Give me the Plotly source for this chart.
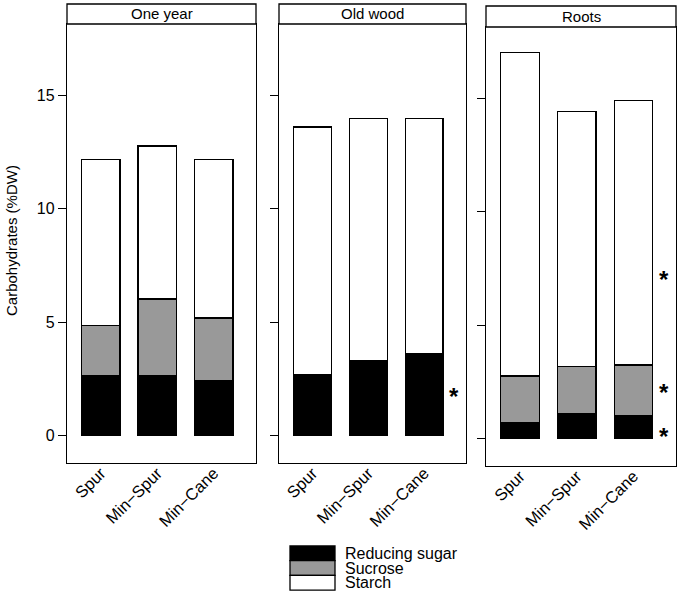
import plotly.graph_objects as go

categories = ["Spur", "Min\u2212Spur", "Min\u2212Cane"]
panels = ["One year", "Old wood", "Roots"]

reducing_sugar = {
    "One year": [2.65, 2.65, 2.42],
    "Old wood": [2.71, 3.31, 3.60],
    "Roots": [0.71, 1.12, 1.00],
}
sucrose = {
    "One year": [2.20, 3.37, 2.77],
    "Old wood": [0.0, 0.0, 0.0],
    "Roots": [2.05, 2.07, 2.25],
}
starch = {
    "One year": [7.31, 6.74, 6.97],
    "Old wood": [10.89, 10.65, 10.36],
    "Roots": [14.25, 11.21, 11.63],
}
# significance markers: (panel, x position, y value)
star_panels = ["Old wood", "Roots", "Roots", "Roots"]
star_x = [2.53, 2.53, 2.53, 2.53]
star_y = [2.0, 7.28, 2.29, 0.35]

y_ticks = [0, 5, 10, 15]

W, H = 680, 598
FONT = "Liberation Sans, Arial, sans-serif"

# panel pixel boxes (left, right, top, bottom)
boxes = [(67, 256, 24, 463), (279, 466, 24, 463), (486, 676, 27, 466)]
headers = [(67, 256, 4, 24), (279, 466, 4, 24), (486, 676, 6, 27)]

def px(x):
    return x / W

def py(y):
    return 1 - y / H

series = [
    ("Reducing sugar", reducing_sugar, "black"),
    ("Sucrose", sucrose, "#999999"),
    ("Starch", starch, "white"),
]

fig = go.Figure()
for i, p in enumerate(panels):
    ax = "" if i == 0 else str(i + 1)
    for name, data, col in series:
        fig.add_trace(go.Bar(
            x=categories, y=data[p], name=name, marker_color=col,
            marker_line_color="black", marker_line_width=1.3,
            width=0.68, xaxis="x" + ax, yaxis="y" + ax, showlegend=False,
        ))

layout = dict(
    width=W, height=H, margin=dict(l=0, r=0, t=0, b=0),
    paper_bgcolor="white", plot_bgcolor="white", barmode="stack",
    font=dict(family=FONT, size=15, color="black"),
)
for i, (l, r, t, b) in enumerate(boxes):
    ax = "" if i == 0 else str(i + 1)
    layout["xaxis" + ax] = dict(
        domain=[px(l), px(r)], range=[-0.6, 2.75], anchor="y" + ax,
        showline=True, mirror=True, linecolor="black", linewidth=1.3,
        showgrid=False, zeroline=False, tickangle=-45,
        ticks="", ticklabelstandoff=-7, tickfont=dict(size=16.5),
    )
    layout["yaxis" + ax] = dict(
        domain=[py(b), py(t)], range=[-1.2, 18.13], anchor="x" + ax,
        showline=True, mirror=True, linecolor="black", linewidth=1.3,
        showgrid=False, zeroline=False, tickvals=y_ticks,
        ticks="outside", ticklen=8, tickcolor="black", tickwidth=1.3,
        showticklabels=(i == 0), tickfont=dict(size=16),
    )
fig.update_layout(**layout)

shapes = []
annotations = []
for (l, r, t, b), p in zip(headers, panels):
    shapes.append(dict(type="rect", xref="paper", yref="paper",
                       x0=px(l), x1=px(r), y0=py(b), y1=py(t),
                       line=dict(color="black", width=1.3), fillcolor="white"))
    annotations.append(dict(text=p, xref="paper", yref="paper",
                            x=px((l + r) / 2), y=py((t + b) / 2),
                            showarrow=False, font=dict(size=15),
                            xanchor="center", yanchor="middle"))

for p, sx, sy in zip(star_panels, star_x, star_y):
    i = panels.index(p)
    ax = "" if i == 0 else str(i + 1)
    annotations.append(dict(text="<b>*</b>", x=sx, y=sy, xref="x" + ax, yref="y" + ax,
                            showarrow=False, font=dict(size=24),
                            xanchor="center", yanchor="middle", yshift=-6))

annotations.append(dict(text="Carbohydrates (%DW)", xref="paper", yref="paper",
                        x=px(11), y=py(241), textangle=-90, showarrow=False,
                        font=dict(size=15), xanchor="center", yanchor="middle"))

# legend drawn as boxes + labels
leg_top = 546
row_h = 14.7
for k, (name, _, col) in enumerate(series):
    y0 = leg_top + k * row_h
    shapes.append(dict(type="rect", xref="paper", yref="paper",
                       x0=px(290), x1=px(335), y0=py(y0 + row_h), y1=py(y0),
                       line=dict(color="black", width=1.3), fillcolor=col))
    annotations.append(dict(text=name, xref="paper", yref="paper",
                            x=px(343), y=py(y0 + row_h / 2), showarrow=False,
                            font=dict(size=16), xanchor="left", yanchor="middle"))

fig.update_layout(shapes=shapes, annotations=annotations)
fig.write_html("out.html", config={"displayModeBar": False},
               post_script="document.body.style.margin='0';document.body.style.overflow='hidden';")
